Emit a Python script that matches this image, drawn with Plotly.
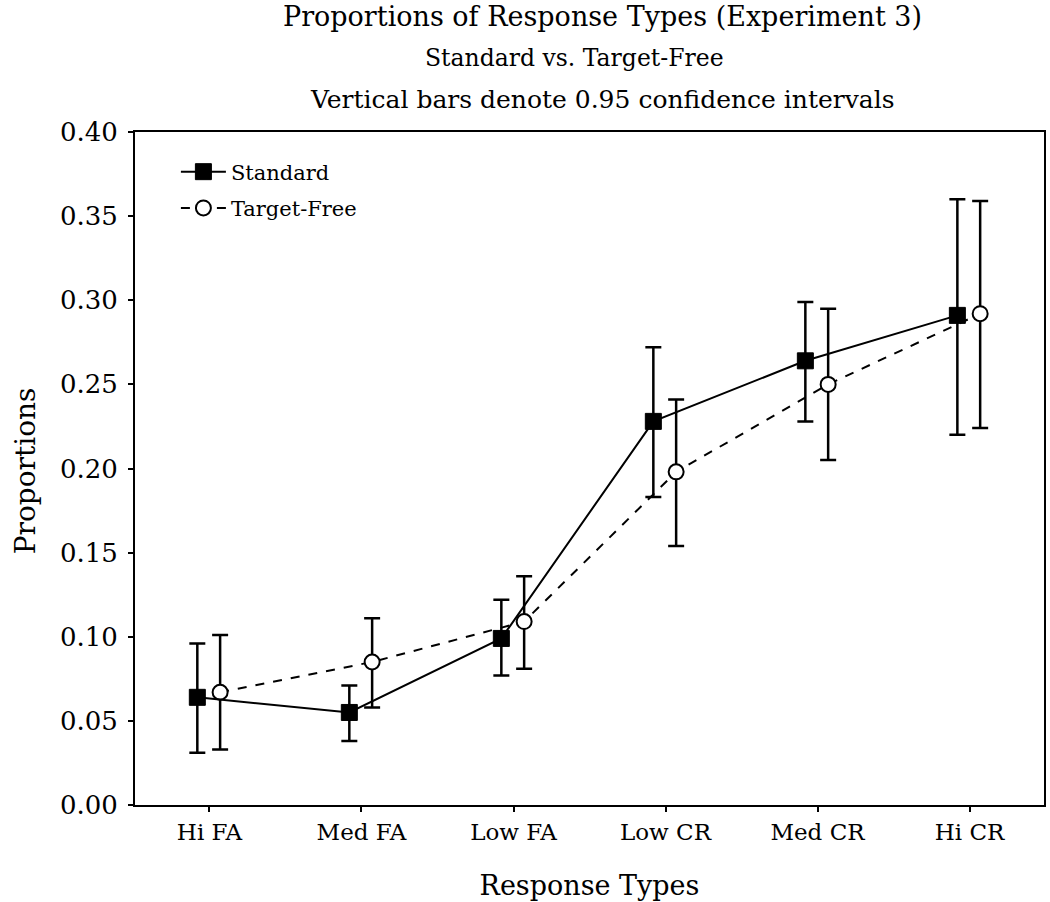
import plotly.graph_objects as go

categories = ["Hi FA", "Med FA", "Low FA", "Low CR", "Med CR", "Hi CR"]
standard = [0.064, 0.055, 0.099, 0.228, 0.264, 0.291]
standard_hi = [0.096, 0.071, 0.122, 0.272, 0.299, 0.360]
standard_lo = [0.031, 0.038, 0.077, 0.183, 0.228, 0.220]
target_free = [0.067, 0.085, 0.109, 0.198, 0.250, 0.292]
target_free_hi = [0.101, 0.111, 0.136, 0.241, 0.295, 0.359]
target_free_lo = [0.033, 0.058, 0.081, 0.154, 0.205, 0.224]
y_ticks = [0.00, 0.05, 0.10, 0.15, 0.20, 0.25, 0.30, 0.35, 0.40]

idx = list(range(len(categories)))
x_std = [i - 0.08 for i in idx]
x_tf = [i + 0.07 for i in idx]

serif = "DejaVu Serif, serif"

fig = go.Figure()
fig.add_trace(go.Scatter(
    x=x_tf, y=target_free, name="Target-Free", mode="lines+markers",
    legendgroup="tf", legendrank=2,
    line=dict(color="black", width=2, dash="dash"),
    marker=dict(symbol="circle", size=15, color="white", line=dict(color="black", width=2)),
    error_y=dict(type="data", symmetric=False,
                 array=[h - v for h, v in zip(target_free_hi, target_free)],
                 arrayminus=[v - l for v, l in zip(target_free, target_free_lo)],
                 color="black", thickness=2.5, width=8),
))
fig.add_trace(go.Scatter(
    x=x_std, y=standard, name="Standard", mode="lines+markers",
    legendgroup="std", legendrank=1,
    line=dict(color="black", width=2),
    marker=dict(symbol="square", size=16, color="black", line=dict(color="black", width=1)),
    error_y=dict(type="data", symmetric=False,
                 array=[h - v for h, v in zip(standard_hi, standard)],
                 arrayminus=[v - l for v, l in zip(standard, standard_lo)],
                 color="black", thickness=2.5, width=8),
))

L, R, T, B = 135, 4, 132, 97
W, H = 1050, 902
PW = W - L - R
PH = H - T - B
fig.update_layout(
    width=W, height=H,
    margin=dict(l=L, r=R, t=T, b=B),
    paper_bgcolor="white", plot_bgcolor="white",
    font=dict(family=serif, color="black"),
    showlegend=True,
    legend=dict(x=0.045, y=0.971, xanchor="left", yanchor="top",
                traceorder="grouped", bgcolor="rgba(0,0,0,0)",
                font=dict(family=serif, size=21), itemwidth=45, tracegroupgap=6),
    xaxis=dict(range=[-0.49, 5.49], tickmode="array", tickvals=idx, ticktext=categories,
               showgrid=False, zeroline=False, showline=True, linecolor="black", linewidth=2,
               mirror=True, ticks="outside", ticklen=5, tickwidth=2, tickcolor="black",
               tickfont=dict(family=serif, size=23),
               title=dict(text="Response Types", font=dict(family=serif, size=27), standoff=33)),
    yaxis=dict(range=[0, 0.40], tickmode="array", tickvals=y_ticks,
               ticktext=[f"{v:.2f}" for v in y_ticks],
               showgrid=False, zeroline=False, showline=True, linecolor="black", linewidth=2,
               mirror=True, ticks="outside", ticklen=5, tickwidth=2, tickcolor="black",
               tickfont=dict(family=serif, size=26), ticklabelstandoff=5),
)

fig.add_annotation(text="Proportions", xref="paper", yref="paper",
                   x=(25 - L) / PW, y=(H - B - 471) / PH, textangle=-90,
                   xanchor="center", yanchor="middle", showarrow=False,
                   font=dict(family=serif, size=28, color="black"))

titles = [("Proportions of Response Types (Experiment 3)", 604, 17, 27),
          ("Standard vs. Target-Free", 575, 58, 23.5),
          ("Vertical bars denote 0.95 confidence intervals", 604, 100, 25)]
for text, xpix, ypix, size in titles:
    fig.add_annotation(text=text, xref="paper", yref="paper",
                       x=(xpix - L) / PW, y=(H - B - ypix) / PH,
                       xanchor="center", yanchor="middle", showarrow=False,
                       font=dict(family=serif, size=size, color="black"))

fig.write_html(
    "out.html",
    config={"displayModeBar": False},
    post_script=("document.documentElement.style.overflow='hidden';"
                 "document.body.style.margin='0px';"
                 "document.body.style.overflow='hidden';"),
)
